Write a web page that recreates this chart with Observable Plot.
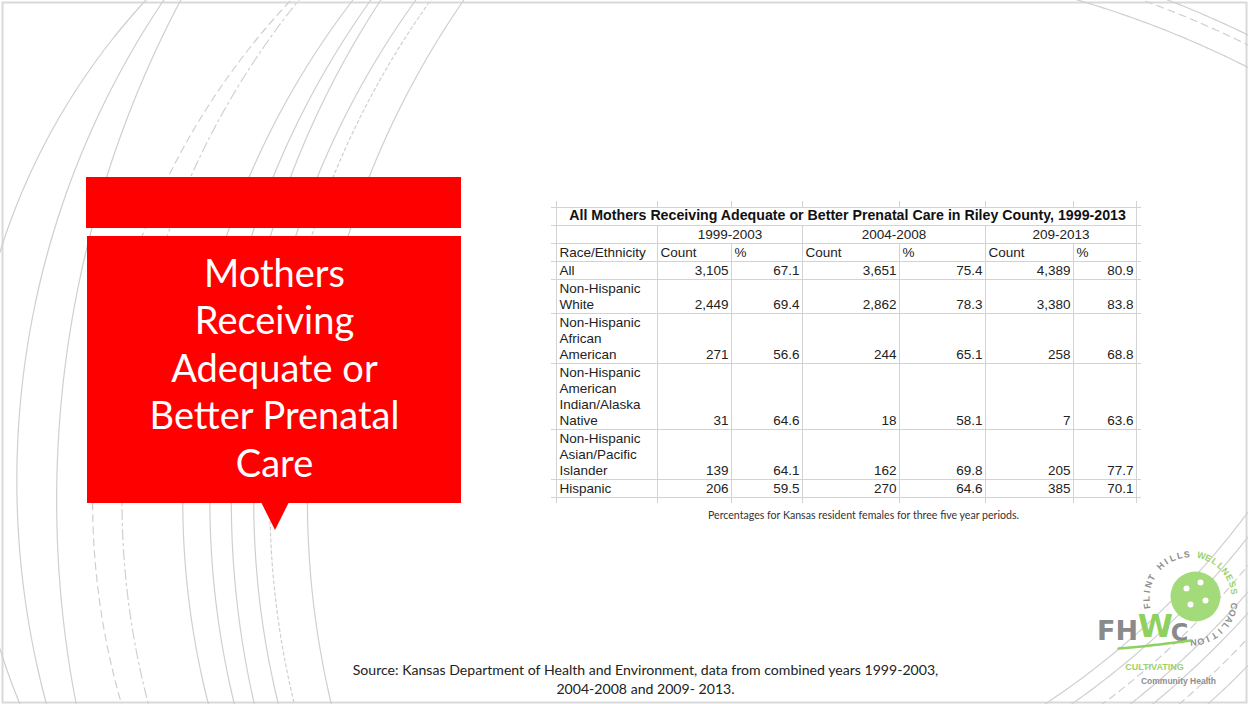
<!DOCTYPE html>
<html><head><meta charset="utf-8">
<script src="https://cdn.jsdelivr.net/npm/d3@7"></script>
<script src="https://cdn.jsdelivr.net/npm/@observablehq/plot@0.6"></script>
<style>html,body{margin:0;padding:0;background:#fff;} #chart svg{display:block}</style>
</head><body><div id="chart"></div>
<script>
// ---------- data ----------
const tableTitle = "All Mothers Receiving Adequate or Better Prenatal Care in Riley County, 1999-2013";
const periods = ["1999-2003", "2004-2008", "209-2013"];
const headers = ["Race/Ethnicity", "Count", "%", "Count", "%", "Count", "%"];
const groupLines = [
  ["All"],
  ["Non-Hispanic", "White"],
  ["Non-Hispanic", "African", "American"],
  ["Non-Hispanic", "American", "Indian/Alaska", "Native"],
  ["Non-Hispanic", "Asian/Pacific", "Islander"],
  ["Hispanic"]
];
const count1999 = [3105, 2449, 271, 31, 139, 206];
const pct1999   = [67.1, 69.4, 56.6, 64.6, 64.1, 59.5];
const count2004 = [3651, 2862, 244, 18, 162, 270];
const pct2004   = [75.4, 78.3, 65.1, 58.1, 69.8, 64.6];
const count2009 = [4389, 3380, 258, 7, 205, 385];
const pct2009   = [80.9, 83.8, 68.8, 63.6, 77.7, 70.1];
const slideTitle = "Mothers\nReceiving\nAdequate or\nBetter Prenatal\nCare";
const noteText = "Percentages for Kansas resident females for three five year periods.";
const sourceLines = ["Source: Kansas Department of Health and Environment, data from combined years 1999-2003,", "2004-2008 and 2009- 2013."];

// ---------- layout ----------
const W = 1248, H = 704;
const colX = [556, 657, 731, 802, 899, 985, 1073, 1136];
const LH = 16, PAD = 2, bodyTop = 261;
const rowTops = []; let t = bodyTop;
groupLines.forEach(ls => { rowTops.push(t); t += ls.length * LH + PAD; });
const tableBottom = t;
const TF = "Liberation Sans, Arial, Helvetica, sans-serif";
const SF = "Lato, Carlito, Calibri, sans-serif";
const gridC = "#d3d3d3";
const BODY = 13.5;

const counts = [count1999, count2004, count2009];
const pcts = [pct1999, pct2004, pct2009];
const fmtC = d3.format(","), fmtP = d3.format(".1f");

const labelRows = [];
groupLines.forEach((ls, i) => ls.forEach((s, k) => labelRows.push({text: s, x: colX[0] + 3, y: rowTops[i] + 1 + LH / 2 + k * LH})));
const valueCells = [];
groupLines.forEach((ls, i) => {
  const y = rowTops[i] + 1 + LH / 2 + (ls.length - 1) * LH;
  periods.forEach((p, j) => {
    valueCells.push({text: fmtC(counts[j][i]), x: colX[2 + 2 * j] - 3, y});
    valueCells.push({text: fmtP(pcts[j][i]), x: colX[3 + 2 * j] - 3, y});
  });
});
const periodCells = periods.map((p, j) => ({text: p, x: (colX[1 + 2 * j] + colX[3 + 2 * j]) / 2, y: 234}));
const headerCells = headers.map((h, k) => ({text: h, x: colX[k] + 3, y: 252}));
const hLines = [207, 225, 243, ...rowTops, tableBottom];
const vLines = [];
colX.forEach((x, k) => {
  const top = (k === 0 || k === colX.length - 1) ? 201 : (k % 2 === 1 ? 225 : 243);
  if (top > 201) vLines.push({x, y1: 201, y2: 207});
  vLines.push({x, y1: top, y2: tableBottom + 6});
});

// decorative arcs
function leftArc(spec, id) {
  const {xt, xb, cy} = spec;
  const cx = (xt * xt - xb * xb + cy * cy - (700 - cy) ** 2) / (2 * (xt - xb));
  const r = Math.hypot(cx - xt, cy);
  const pts = [];
  for (let y = -8; y <= H + 8; y += 3) { const dy = y - cy; if (Math.abs(dy) < r) pts.push({id, x: cx - Math.sqrt(r * r - dy * dy), y}); }
  return pts;
}
const leftSpecs = [
  {xt: 145, xb: 18, cy: 450, s: 0}, {xt: 163, xb: 45, cy: 480, s: 0}, {xt: 180, xb: 75, cy: 500, s: 0},
  {xt: 290, xb: 120, cy: 500, s: 1}, {xt: 298, xb: 147, cy: 500, s: 2},
  {xt: 352, xb: 207, cy: 500, s: 0}, {xt: 370, xb: 233, cy: 500, s: 0}, {xt: 380, xb: 253, cy: 500, s: 0},
  {xt: 415, xb: 277, cy: 500, s: 0}, {xt: 430, xb: 293, cy: 500, s: 3}, {xt: 463, xb: 330, cy: 500, s: 0}
];
function circArc(cx, cy, r, sign, id, s) {
  const pts = [];
  for (let x = 900; x <= W + 8; x += 3) { const dx = x - cx; if (Math.abs(dx) < r) pts.push({id, s, x, y: cy + sign * Math.sqrt(r * r - dx * dx)}); }
  return pts;
}
const arcs = [];
leftSpecs.forEach((sp, i) => leftArc(sp, "L" + i).forEach(p => arcs.push({...p, s: sp.s})));
[[990, 0], [1010, 1], [1019, 0]].forEach(([r, s], i) => arcs.push(...circArc(800, 950, r, -1, "T" + i, s)));
[[807, 0], [822, 0], [840, 1], [857, 0], [871, 0], [888, 1], [907, 0]].forEach(([r, s], i) => arcs.push(...circArc(600, 30, r, 1, "B" + i, s)));
const dashes = [null, "7,5", "10,4,2,4", "3,3"];

// logo ring
const ringText = "FLINT HILLS WELLNESS COALITION";
const ring = Array.from(ringText).map((ch, i) => {
  const th = -100 + i * (276 / (ringText.length - 1)); const rad = th * Math.PI / 180;
  return {ch, x: 1190 + 44 * Math.sin(rad), y: 598 - 44 * Math.cos(rad), rot: th, green: i >= 12 && i < 20};
});

const marks = [
  Plot.frame({stroke: "#d9d9d9", strokeWidth: 2, inset: 2}),
  ...dashes.map((d, s) => Plot.line(arcs.filter(p => p.s === s), {x: "x", y: "y", z: "id", stroke: "#cfcfcf", strokeWidth: 1.2, strokeDasharray: d, clip: true})),
  // red title boxes
  Plot.rect([{x1: 86, x2: 461, y1: 177, y2: 228}, {x1: 87, x2: 461, y1: 236, y2: 503}], {x1: "x1", x2: "x2", y1: "y1", y2: "y2", fill: "#ff0000"}),
  Plot.areaY([{x: 261, y1: 502, y2: 502}, {x: 275, y1: 502, y2: 530}, {x: 289, y1: 502, y2: 502}], {x: "x", y1: "y1", y2: "y2", fill: "#ff0000", curve: "linear"}),
  Plot.text([slideTitle], {x: () => 274, y: () => 366, text: d => d, fill: "white", fontSize: 38, fontFamily: SF, lineHeight: 1.25, lineAnchor: "middle", textAnchor: "middle"}),
  // table grid
  Plot.ruleY(hLines, {y: d => d, x1: () => 551, x2: () => 1141, stroke: gridC, strokeWidth: 1}),
  Plot.ruleX(vLines, {x: "x", y1: "y1", y2: "y2", stroke: gridC, strokeWidth: 1}),
  // table text
  Plot.text([tableTitle], {x: () => (colX[0] + colX[7]) / 2 + 1, y: () => 215, text: d => d, fontSize: 14.2, fontWeight: "bold", fontFamily: TF, fill: "#111", lineAnchor: "middle"}),
  Plot.text(periodCells, {x: "x", y: "y", text: "text", fontSize: BODY, fontFamily: TF, fill: "#222", lineAnchor: "middle"}),
  Plot.text(headerCells, {x: "x", y: "y", text: "text", fontSize: BODY, fontFamily: TF, fill: "#222", textAnchor: "start", lineAnchor: "middle"}),
  Plot.text(labelRows, {x: "x", y: "y", text: "text", fontSize: BODY, fontFamily: TF, fill: "#222", textAnchor: "start", lineAnchor: "middle"}),
  Plot.text(valueCells, {x: "x", y: "y", text: "text", fontSize: BODY, fontFamily: TF, fill: "#222", textAnchor: "end", lineAnchor: "middle"}),
  Plot.text([noteText], {x: () => 863, y: () => 515, text: d => d, fontSize: 10.6, fontFamily: SF, fill: "#333", lineAnchor: "middle"}),
  // source
  Plot.text(sourceLines, {x: () => 645, y: (d, i) => 670 + i * 19, text: d => d, fontSize: 14.1, fontFamily: SF, fill: "#222", lineAnchor: "middle"}),
  // logo
  Plot.dot([0], {x: () => 1195, y: () => 596, r: 25, fill: "#a3da7a"}),
  Plot.dot([[1186, 588], [1200, 582], [1205, 600], [1190, 604]], {x: d => d[0], y: d => d[1], r: 3, fill: "white"}),
  Plot.text(ring.filter(d => !d.green), {x: "x", y: "y", text: "ch", rotate: "rot", fill: "#8e8e8e", fontSize: 9, fontWeight: "bold", fontFamily: TF, lineAnchor: "middle"}),
  Plot.text(ring.filter(d => d.green), {x: "x", y: "y", text: "ch", rotate: "rot", fill: "#9bd36b", fontSize: 9, fontWeight: "bold", fontFamily: TF, lineAnchor: "middle"}),
  Plot.text(["FH"], {x: () => 1117, y: () => 631, text: d => d, fill: "#8a8a8a", fontSize: 27, fontWeight: "bold", fontFamily: "DejaVu Sans", lineAnchor: "middle"}),
  Plot.text(["W"], {x: () => 1155, y: () => 626, text: d => d, fill: "#8fd160", fontSize: 32, fontWeight: "bold", fontFamily: "DejaVu Sans", lineAnchor: "middle"}),
  Plot.text(["C"], {x: () => 1179, y: () => 633, text: d => d, fill: "#8a8a8a", fontSize: 24, fontWeight: "bold", fontFamily: "DejaVu Sans", lineAnchor: "middle"}),
  Plot.line([[1118, 648], [1150, 645], [1190, 640]], {x: d => d[0], y: d => d[1], stroke: "#8fd160", strokeWidth: 2.5, curve: "natural"}),
  Plot.text(["CULTIVATING"], {x: () => 1154, y: () => 667, text: d => d, fill: "#9bd36b", fontSize: 9, fontWeight: "bold", fontFamily: TF, lineAnchor: "middle"}),
  Plot.text(["Community Health"], {x: () => 1178, y: () => 681, text: d => d, fill: "#8e8e8e", fontSize: 8.5, fontWeight: "bold", fontFamily: TF, lineAnchor: "middle"})
];

const chart = Plot.plot({
  width: W, height: H, margin: 0,
  x: {domain: [0, W], range: [0, W], axis: null},
  y: {domain: [0, H], range: [0, H], axis: null},
  style: {background: "white", fontFamily: TF},
  marks
});
document.getElementById("chart").appendChild(chart);
</script>
</body></html>
